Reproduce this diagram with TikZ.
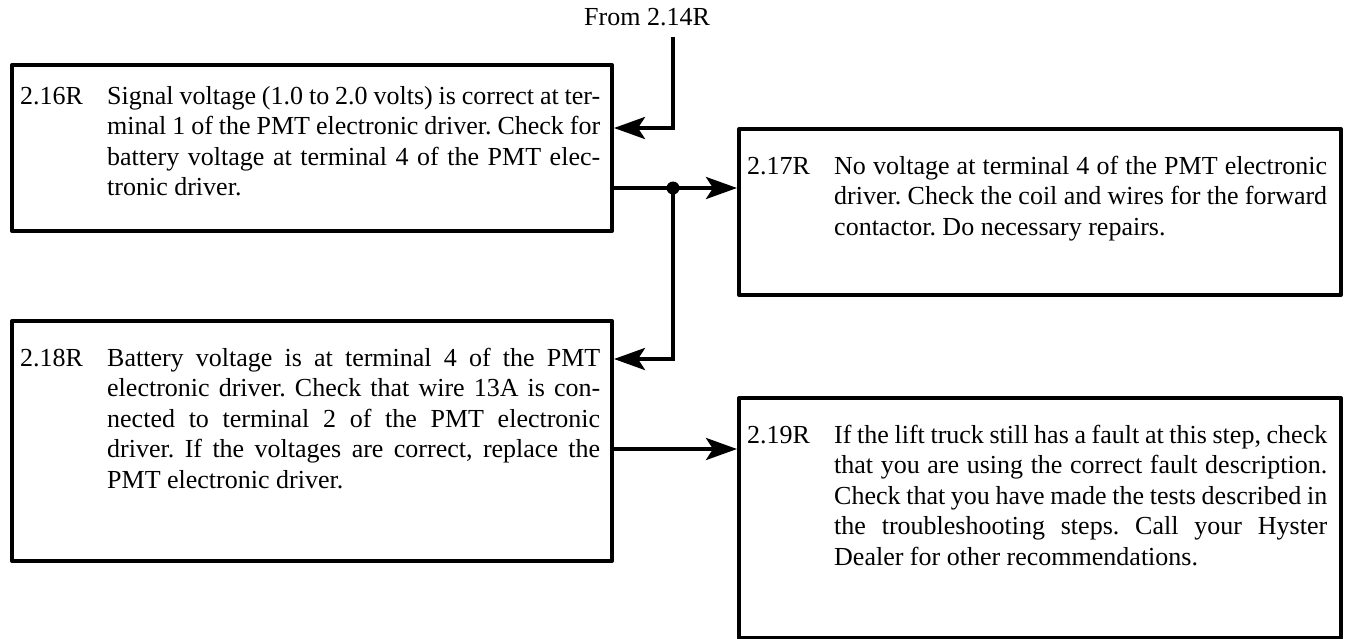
\documentclass[tikz,border=0pt]{standalone}
\usepackage{fontspec}
\setmainfont{Liberation Serif}
\usetikzlibrary{arrows.meta}

\newcommand\stepfont{\fontsize{26pt}{30.5pt}\selectfont\frenchspacing}
% one justified line of a step description
\newcommand\jline[1]{\makebox[\linewidth][s]{#1}\\}
% step number followed by its description block
\newcommand\steptext[2]{\makebox[87pt][l]{#1}\parbox[t]{493pt}{\stepfont #2}}

\begin{document}
\begin{tikzpicture}[x=1pt,y=-1pt,
  frame/.style={draw, line width=4pt, line join=round, inner sep=0pt, anchor=north west},
  body/.style={anchor=base west, inner sep=0pt, font=\stepfont},
  link/.style={line width=4pt, -{Stealth[length=31pt,width=22pt,inset=7pt]}},
]
\useasboundingbox (0,0) rectangle (1347,638);

% step boxes
\node[frame, minimum width=600pt, minimum height=166pt] (b16) at (10,63) {};
\node[frame, minimum width=602pt, minimum height=166pt] (b17) at (737,127) {};
\node[frame, minimum width=600pt, minimum height=240pt] (b18) at (10,319) {};
\node[frame, minimum width=602pt, minimum height=240pt] (b19) at (737,396) {};

% step texts
\node[body] (t16) at ([xshift=10pt,yshift=-41pt]b16.north west) {\steptext{2.16R}{%
  \jline{Signal voltage (1.0 to 2.0 volts) is correct at ter-}
  \jline{minal 1 of the PMT electronic driver. Check for}
  \jline{battery voltage at terminal 4 of the PMT elec-}
  tronic driver.}};
\node[body] (t17) at ([xshift=10pt,yshift=-47pt]b17.north west) {\steptext{2.17R}{%
  \jline{No voltage at terminal 4 of the PMT electronic}
  \jline{driver. Check the coil and wires for the forward}
  contactor. Do necessary repairs.}};
\node[body] (t18) at ([xshift=10pt,yshift=-47pt]b18.north west) {\steptext{2.18R}{%
  \jline{Battery voltage is at terminal 4 of the PMT}
  \jline{electronic driver. Check that wire 13A is con-}
  \jline{nected to terminal 2 of the PMT electronic}
  \jline{driver. If the voltages are correct, replace the}
  PMT electronic driver.}};
\node[body] (t19) at ([xshift=10pt,yshift=-47pt]b19.north west) {\steptext{2.19R}{%
  \jline{If the lift truck still has a fault at this step, check}
  \jline{that you are using the correct fault description.}
  \jline{Check that you have made the tests described in}
  \jline{the troubleshooting steps. Call your Hyster}
  Dealer for other recommendations.}};

% entry from the previous step
\node[font=\stepfont, inner sep=0pt] (from) at (647,17) {From 2.14R};
\coordinate (src) at (673,37);
\draw[link] (src) |- ([yshift=20pt]b16.east);

% branch to 2.17R and 2.18R
\coordinate (j) at (673,188);
\draw[link] (b16.east |- j) -- (b17.west |- j);
\fill (j) circle (6.5pt);
\draw[link] (j) |- ([yshift=82pt]b18.east);

% on to 2.19R
\coordinate (k) at ([yshift=-8pt]b18.east);
\draw[link] (k) -- (k -| b19.west);
\end{tikzpicture}
\end{document}
